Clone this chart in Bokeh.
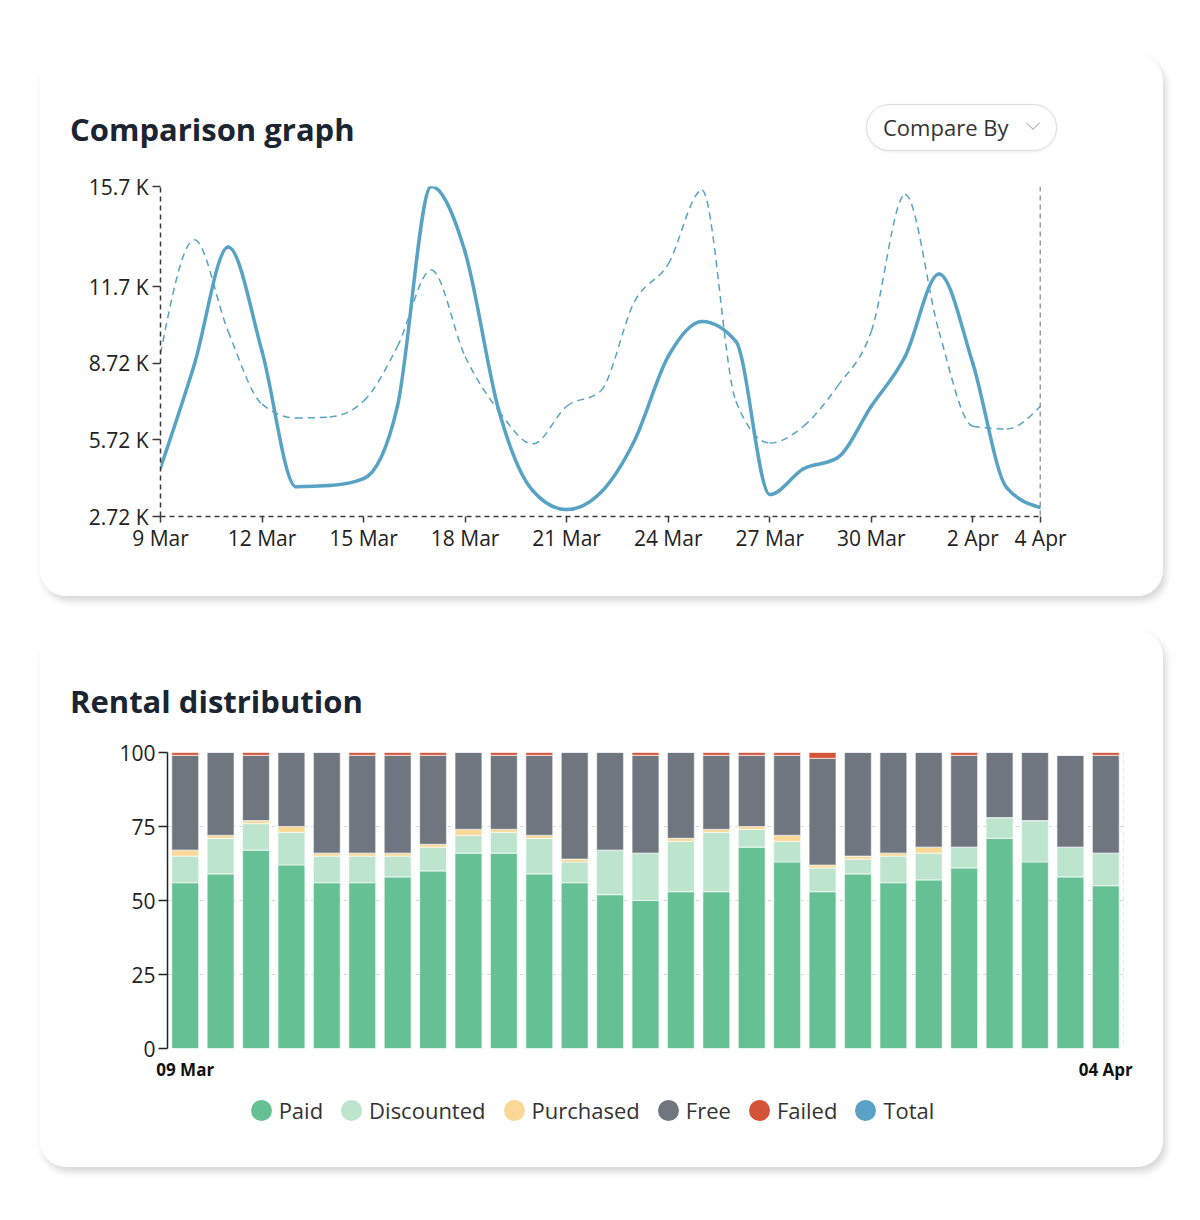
from bokeh.plotting import figure
from bokeh.models import Range1d, FixedTicker, Span, ColumnDataSource, Div
from bokeh.layouts import column
from bokeh.embed import file_html
from bokeh.resources import INLINE

FONT = "Open Sans"

# ---------------- Comparison graph data ----------------
dates = ["9 Mar", "10 Mar", "11 Mar", "12 Mar", "13 Mar", "14 Mar", "15 Mar", "16 Mar",
         "17 Mar", "18 Mar", "19 Mar", "20 Mar", "21 Mar", "22 Mar", "23 Mar", "24 Mar",
         "25 Mar", "26 Mar", "27 Mar", "28 Mar", "29 Mar", "30 Mar", "31 Mar", "1 Apr",
         "2 Apr", "3 Apr", "4 Apr"]
current = [4630, 8680, 13280, 9190, 3890, 3930, 4200, 7040, 15650, 13080, 6850, 3730, 2990,
           3650, 5680, 8990, 10360, 9580, 3580, 4590, 5020, 7040, 8990, 12220, 8720, 3850, 3070]
previous = [9100, 13560, 9970, 7120, 6580, 6620, 7240, 9380, 12380, 8990, 6850, 5560, 7040,
            7630, 11130, 12610, 15500, 7240, 5600, 6260, 7820, 9970, 15340, 9970, 6260, 6150, 7040]
x_tick_labels = ["9 Mar", "12 Mar", "15 Mar", "18 Mar", "21 Mar", "24 Mar", "27 Mar",
                 "30 Mar", "2 Apr", "4 Apr"]
y_tick_values = [2720, 5720, 8720, 11720, 15650]
y_tick_labels = ["2.72 K", "5.72 K", "8.72 K", "11.7 K", "15.7 K"]

# ---------------- Rental distribution data ----------------
bar_dates = ["09 Mar", "04 Apr"]
paid = [56, 59, 67, 62, 56, 56, 58, 60, 66, 66, 59, 56, 52, 50, 53, 53, 68, 63, 53, 59, 56,
        57, 61, 71, 63, 58, 55]
discounted = [9, 12, 9, 11, 9, 9, 7, 8, 6, 7, 12, 7, 15, 16, 17, 20, 6, 7, 8, 5, 9, 9, 7, 7,
              14, 10, 11]
purchased = [2, 1, 1, 2, 1, 1, 1, 1, 2, 1, 1, 1, 0, 0, 1, 1, 1, 2, 1, 1, 1, 2, 0, 0, 0, 0, 0]
free = [32, 28, 22, 25, 34, 33, 33, 30, 26, 25, 27, 36, 33, 33, 29, 25, 24, 27, 36, 35, 34,
        32, 31, 22, 23, 31, 33]
failed = [1, 0, 1, 0, 0, 1, 1, 1, 0, 1, 1, 0, 0, 1, 0, 1, 1, 1, 2, 0, 0, 0, 1, 0, 0, 0, 1]
series_names = ["Paid", "Discounted", "Purchased", "Free", "Failed", "Total"]
series_colors = ["#65c194", "#bde4cd", "#fbd896", "#6f767f", "#d4543a", "#5aa2c5"]

LINE_COLOR = "#58a2c4"
CARD_W = 1123
CARD_STYLE = {"background-color": "white", "border-radius": "26px", "overflow": "hidden",
              "box-shadow": "3px 5px 7px rgba(0,0,0,0.16)"}
TITLE_CSS = ("position:absolute;left:30px;font-family:'Open Sans';font-size:31px;"
             "font-weight:700;color:#1b2431;line-height:38px;white-space:nowrap;")


def monotone_beziers(xs, ys):
    n = len(xs)
    h = [xs[i + 1] - xs[i] for i in range(n - 1)]
    s = [(ys[i + 1] - ys[i]) / h[i] for i in range(n - 1)]
    t = [0.0] * n

    def sgn(v):
        return -1 if v < 0 else 1

    for i in range(1, n - 1):
        p = (s[i - 1] * h[i] + s[i] * h[i - 1]) / (h[i - 1] + h[i])
        t[i] = (sgn(s[i - 1]) + sgn(s[i])) * min(abs(s[i - 1]), abs(s[i]), 0.5 * abs(p))
    t[0] = (3 * s[0] - t[1]) / 2
    t[-1] = (3 * s[-1] - t[-2]) / 2
    d = dict(x0=[], y0=[], x1=[], y1=[], cx0=[], cy0=[], cx1=[], cy1=[])
    for i in range(n - 1):
        dx = h[i] / 3
        d["x0"].append(xs[i]); d["y0"].append(ys[i])
        d["x1"].append(xs[i + 1]); d["y1"].append(ys[i + 1])
        d["cx0"].append(xs[i] + dx); d["cy0"].append(ys[i] + dx * t[i])
        d["cx1"].append(xs[i + 1] - dx); d["cy1"].append(ys[i + 1] - dx * t[i + 1])
    return ColumnDataSource(d)


# ================= Card 1: Comparison graph =================
header1 = Div(width=CARD_W, height=116, margin=0, text=(
    '<div style="position:relative;width:%dpx;height:116px;">' % CARD_W +
    '<div style="%stop:55px;">Comparison graph</div>' % TITLE_CSS +
    '<div style="position:absolute;left:826px;top:49px;width:191px;height:47px;'
    'box-sizing:border-box;border:1px solid #dcdcdc;border-radius:24px;'
    'box-shadow:0 1px 3px rgba(0,0,0,0.08);background:white;">'
    '<span style="position:absolute;left:16px;top:0;line-height:45px;font-family:\'Open Sans\';'
    'font-size:22px;color:#333333;white-space:nowrap;">Compare By</span>'
    '<span style="position:absolute;left:161px;top:13px;width:10px;height:10px;'
    'border-right:1.3px solid #b5b5b5;border-bottom:1.3px solid #b5b5b5;'
    'transform:rotate(45deg);"></span></div></div>'))

xs = list(range(len(dates)))
p1 = figure(width=CARD_W, height=425, x_range=Range1d(0, len(dates) - 1),
            y_range=Range1d(y_tick_values[0], max(current)),
            output_backend="svg", toolbar_location=None, margin=0,
            min_border_left=120, min_border_right=123, min_border_top=15, min_border_bottom=80,
            background_fill_color="white", border_fill_color="white", outline_line_color=None)
p1.grid.visible = False

p1.bezier(x0="x0", y0="y0", x1="x1", y1="y1", cx0="cx0", cy0="cy0", cx1="cx1", cy1="cy1",
          source=monotone_beziers(xs, previous), line_color=LINE_COLOR, line_width=1.5,
          line_dash="7 5")
p1.bezier(x0="x0", y0="y0", x1="x1", y1="y1", cx0="cx0", cy0="cy0", cx1="cx1", cy1="cy1",
          source=monotone_beziers(xs, current), line_color=LINE_COLOR, line_width=3.5,
          line_cap="round")

tick_idx = [dates.index(lbl) for lbl in x_tick_labels]
p1.xaxis.ticker = FixedTicker(ticks=tick_idx)
p1.xaxis.major_label_overrides = {i: lbl for i, lbl in zip(tick_idx, x_tick_labels)}
p1.yaxis.ticker = FixedTicker(ticks=y_tick_values)
p1.yaxis.major_label_overrides = {v: lbl for v, lbl in zip(y_tick_values, y_tick_labels)}
for ax in (p1.xaxis[0], p1.yaxis[0]):
    ax.axis_line_color = "#3a3a3a"
    ax.axis_line_width = 1.5
    ax.axis_line_dash = "5 4"
    ax.major_tick_line_color = "#3a3a3a"
    ax.major_tick_line_width = 1.5
    ax.major_tick_in = 0
    ax.major_tick_out = 6
    ax.minor_tick_line_color = None
    ax.major_label_text_font = FONT
    ax.major_label_text_font_size = "21px"
    ax.major_label_text_color = "#222222"
    ax.major_label_standoff = 1
p1.yaxis[0].major_tick_out = 8
p1.yaxis[0].major_label_standoff = 4
p1.add_layout(Span(location=len(dates) - 1, dimension="height", line_color="#3a3a3a",
                   line_width=1.5, line_dash="5 4"))

card1 = column(header1, p1, styles=CARD_STYLE, margin=(55, 0, 0, 40))

# ================= Card 2: Rental distribution =================
header2 = Div(width=CARD_W, height=107, margin=0, text=(
    '<div style="position:relative;width:%dpx;height:107px;">' % CARD_W +
    '<div style="%stop:52px;">Rental distribution</div></div>' % TITLE_CSS))

n = len(paid)
src = ColumnDataSource(dict(x=list(range(n)), paid=paid, discounted=discounted,
                            purchased=purchased, free=free, failed=failed))
p2 = figure(width=CARD_W, height=351, x_range=Range1d(-0.5, n - 0.5), y_range=Range1d(0, 100),
            output_backend="svg", toolbar_location=None, margin=0,
            min_border_left=127, min_border_right=40, min_border_top=15, min_border_bottom=40,
            background_fill_color="white", border_fill_color="white", outline_line_color=None)
p2.vbar_stack(["paid", "discounted", "purchased", "free", "failed"], x="x", width=0.76,
              color=series_colors[:5], source=src, line_color="white", line_alpha=0.55,
              line_width=1.2)
p2.xgrid.visible = False
p2.ygrid.grid_line_color = "#d4d4d4"
p2.ygrid.grid_line_dash = "4 4"
p2.ygrid.grid_line_width = 1

p2.xaxis.ticker = FixedTicker(ticks=[0, n - 1])
p2.xaxis.major_label_overrides = {0: bar_dates[0], n - 1: bar_dates[1]}
xa = p2.xaxis[0]
xa.axis_line_color = None
xa.major_tick_line_color = None
xa.minor_tick_line_color = None
xa.major_tick_out = 0
xa.major_tick_in = 0
xa.major_label_standoff = 9
xa.major_label_text_font = FONT
xa.major_label_text_font_size = "17px"
xa.major_label_text_font_style = "bold"
xa.major_label_text_color = "#111111"

p2.yaxis.ticker = FixedTicker(ticks=[0, 25, 50, 75, 100])
ya = p2.yaxis[0]
ya.axis_line_color = "#222222"
ya.axis_line_width = 1.5
ya.major_tick_line_color = "#222222"
ya.major_tick_line_width = 1.5
ya.major_tick_in = 0
ya.major_tick_out = 9
ya.minor_tick_line_color = None
ya.major_label_text_font = FONT
ya.major_label_text_font_size = "21px"
ya.major_label_text_color = "#222222"
ya.major_label_standoff = 3
p2.add_layout(Span(location=n - 0.5, dimension="height", line_color="#cccccc",
                   line_width=1, line_dash="4 4"))

legend_items = "".join(
    '<div style="display:flex;align-items:center;margin:0 9px;">'
    '<span style="display:inline-block;width:21px;height:21px;border-radius:50%%;'
    'background:%s;margin-right:7px;"></span>'
    '<span style="font-family:\'Open Sans\';font-size:22px;color:#333333;'
    'white-space:nowrap;">%s</span></div>' % (c, name)
    for name, c in zip(series_names, series_colors))
footer2 = Div(width=CARD_W, height=79, margin=0, text=(
    '<div style="position:relative;width:%dpx;height:79px;">' % CARD_W +
    '<div style="position:absolute;left:0;top:7px;width:1105px;display:flex;'
    'justify-content:center;">' + legend_items + '</div></div>'))

card2 = column(header2, p2, footer2, styles=CARD_STYLE, margin=(34, 0, 0, 40))

open("out.html", "w").write(file_html([card1, card2], INLINE))
